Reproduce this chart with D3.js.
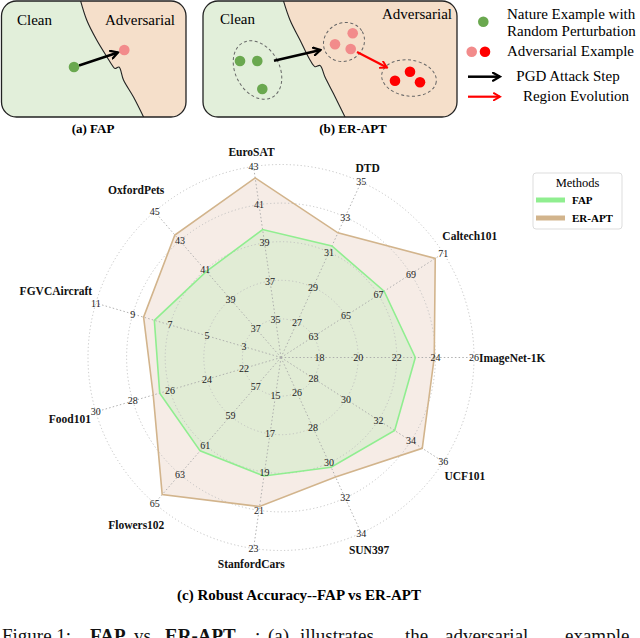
<!DOCTYPE html>
<html>
<head>
<meta charset="utf-8">
<script src="https://cdn.jsdelivr.net/npm/d3@7"></script>
<style>
  body { margin: 0; background: #fff; }
  svg { display: block; }
  text { font-family: "Liberation Serif", "Times New Roman", serif; }
</style>
</head>
<body>
<div id="chart"></div>
<script>
// Radar data, axes run counter-clockwise starting at 3 o'clock
const datasets = ["ImageNet-1K", "Caltech101", "DTD", "EuroSAT", "OxfordPets", "FGVCAircraft",
                  "Food101", "Flowers102", "StanfordCars", "SUN397", "UCF101"];
const axisMin = [16, 61, 25, 33, 35, 1, 20, 55, 13, 24, 26];
const axisMax = [26, 71, 35, 43, 45, 11, 30, 65, 23, 34, 36];
const ringTicks = [
  [18, 20, 22, 24, 26], [63, 65, 67, 69, 71], [27, 29, 31, 33, 35], [35, 37, 39, 41, 43],
  [37, 39, 41, 43, 45], [3, 5, 7, 9, 11], [22, 24, 26, 28, 30], [57, 59, 61, 63, 65],
  [15, 17, 19, 21, 23], [26, 28, 30, 32, 34], [28, 30, 32, 34, 36]
];
const fapValues   = [22.96, 67.35, 31.35, 39.7, 40.9, 7.84, 26.55, 61.4, 19.2, 30.25, 33.0];
const eraptValues = [23.94, 70.5, 32.1, 42.4, 43.4, 8.42, 26.9, 64.4, 20.8, 30.8, 34.7];
const methods = ["FAP", "ER-APT"];

const width = 640, height = 638;

const svg = d3.select("#chart").append("svg")
    .attr("width", width)
    .attr("height", height);

// Arrow markers for the illustrations
const defs = svg.append("defs");
[["arrowBlack", "#000"], ["arrowRed", "#f00"]].forEach(([id, c]) => {
  defs.append("marker")
      .attr("id", id)
      .attr("viewBox", "0 0 10 10")
      .attr("refX", 8).attr("refY", 5)
      .attr("markerWidth", 4).attr("markerHeight", 4)
      .attr("orient", "auto")
    .append("path")
      .attr("d", "M1,1 L8,5 L1,9")
      .attr("fill", "none")
      .attr("stroke", c)
      .attr("stroke-width", 2.2)
      .attr("stroke-linecap", "round");
});

const cleanFill = "#e2efda", advFill = "#f5dfca";
const boundary = d3.line().curve(d3.curveCatmullRom);

function panel(x, w, pts) {
  const g = svg.append("g");
  const clipId = "clip" + Math.round(x);
  defs.append("clipPath").attr("id", clipId)
    .append("rect").attr("x", x).attr("y", 1).attr("width", w).attr("height", 116).attr("rx", 15);
  const inner = g.append("g").attr("clip-path", `url(#${clipId})`);
  inner.append("rect").attr("x", x).attr("y", 1).attr("width", w).attr("height", 116).attr("fill", advFill);
  inner.append("path").attr("d", boundary(pts) + `L${x - 5},125L${x - 5},-5Z`).attr("fill", cleanFill);
  inner.append("path").attr("d", boundary(pts)).attr("fill", "none").attr("stroke", "#222").attr("stroke-width", 1.1);
  g.append("rect").attr("x", x).attr("y", 1).attr("width", w).attr("height", 116).attr("rx", 15)
      .attr("fill", "none").attr("stroke", "#222").attr("stroke-width", 1.3);
  return g;
}

// (a) FAP
const pa = panel(1.5, 184.5, [[79, -5], [86.7, 20], [96.7, 40], [107, 57], [112, 65], [115, 68.5], [119, 67],
                               [123.5, 80], [133.5, 97], [146, 122]]);
pa.append("text").attr("x", 17).attr("y", 25).attr("font-size", 15).text("Clean");
pa.append("text").attr("x", 105).attr("y", 25).attr("font-size", 15).text("Adversarial");
pa.append("line").attr("x1", 79).attr("y1", 65.5).attr("x2", 118).attr("y2", 52.5)
    .attr("stroke", "#000").attr("stroke-width", 2.5).attr("marker-end", "url(#arrowBlack)");
pa.append("circle").attr("cx", 74).attr("cy", 67).attr("r", 5.3).attr("fill", "#6aa84f");
pa.append("circle").attr("cx", 124.3).attr("cy", 50).attr("r", 5.3).attr("fill", "#f28b8b");
svg.append("text").attr("x", 93).attr("y", 133).attr("text-anchor", "middle")
    .attr("font-size", 13).attr("font-weight", "bold").text("(a) FAP");

// (b) ER-APT
const pb = panel(203, 254, [[281.7, -5], [290, 20], [300, 40], [310, 60], [315, 66.7], [320, 65.5],
                            [325, 77], [333.3, 93.3], [347.5, 122]]);
pb.append("text").attr("x", 220).attr("y", 24).attr("font-size", 15).text("Clean");
pb.append("text").attr("x", 382).attr("y", 19).attr("font-size", 15).text("Adversarial");
const dash = "3,2.5";
pb.append("ellipse").attr("cx", 0).attr("cy", 0).attr("rx", 22).attr("ry", 31)
    .attr("transform", "translate(257.5,70) rotate(-28)")
    .attr("fill", "none").attr("stroke", "#666").attr("stroke-dasharray", dash);
pb.append("ellipse").attr("cx", 0).attr("cy", 0).attr("rx", 21).attr("ry", 19)
    .attr("transform", "translate(344,42) rotate(-30)")
    .attr("fill", "none").attr("stroke", "#666").attr("stroke-dasharray", dash);
pb.append("ellipse").attr("cx", 0).attr("cy", 0).attr("rx", 27.5).attr("ry", 18)
    .attr("transform", "translate(409,78) rotate(8)")
    .attr("fill", "none").attr("stroke", "#666").attr("stroke-dasharray", dash);
[[240, 61], [257.3, 61], [262.3, 89]].forEach(([x, y]) =>
  pb.append("circle").attr("cx", x).attr("cy", y).attr("r", 5.3).attr("fill", "#6aa84f"));
[[335, 44.3], [352.7, 33.3], [350.7, 49]].forEach(([x, y]) =>
  pb.append("circle").attr("cx", x).attr("cy", y).attr("r", 5.3).attr("fill", "#f28b8b"));
[[395, 80.7], [410, 71.7], [420, 82.3]].forEach(([x, y]) =>
  pb.append("circle").attr("cx", x).attr("cy", y).attr("r", 5.3).attr("fill", "#f00"));
pb.append("line").attr("x1", 274).attr("y1", 60.7).attr("x2", 320.5).attr("y2", 50)
    .attr("stroke", "#000").attr("stroke-width", 2.5).attr("marker-end", "url(#arrowBlack)");
pb.append("line").attr("x1", 357).attr("y1", 52).attr("x2", 387).attr("y2", 67.5)
    .attr("stroke", "#f00").attr("stroke-width", 2.2).attr("marker-end", "url(#arrowRed)");
svg.append("text").attr("x", 353).attr("y", 133).attr("text-anchor", "middle")
    .attr("font-size", 13).attr("font-weight", "bold").text("(b) ER-APT");

// Illustration legend
const lg = svg.append("g").attr("font-size", 15);
lg.append("circle").attr("cx", 483.3).attr("cy", 21.7).attr("r", 5.3).attr("fill", "#6aa84f");
lg.append("text").attr("x", 507).attr("y", 19).text("Nature Example with");
lg.append("text").attr("x", 507).attr("y", 36).text("Random Perturbation");
lg.append("circle").attr("cx", 471.7).attr("cy", 51.7).attr("r", 5.3).attr("fill", "#f28b8b");
lg.append("circle").attr("cx", 485).attr("cy", 51.7).attr("r", 5.3).attr("fill", "#f00");
lg.append("text").attr("x", 507).attr("y", 56).text("Adversarial Example");
lg.append("line").attr("x1", 468).attr("y1", 76.7).attr("x2", 500).attr("y2", 76.7)
    .attr("stroke", "#000").attr("stroke-width", 2.5).attr("marker-end", "url(#arrowBlack)");
lg.append("text").attr("x", 568).attr("y", 81).attr("text-anchor", "middle").text("PGD Attack Step");
lg.append("line").attr("x1", 468).attr("y1", 96.7).attr("x2", 500).attr("y2", 96.7)
    .attr("stroke", "#f00").attr("stroke-width", 2.2).attr("marker-end", "url(#arrowRed)");
lg.append("text").attr("x", 576).attr("y", 101).attr("text-anchor", "middle").text("Region Evolution");

// ---- Radar chart ----
const cx = 281, cy = 357.5, R = 193;
const n = datasets.length;
const angle = i => i * 2 * Math.PI / n;   // counter-clockwise from east
const scales = datasets.map((d, i) => d3.scaleLinear().domain([axisMin[i], axisMax[i]]).range([0, R]));
const radar = svg.append("g").attr("transform", `translate(${cx},${cy})`);

const radial = d3.lineRadial()
    .angle(d => Math.PI / 2 - angle(d.i))
    .radius(d => scales[d.i](d.v))
    .curve(d3.curveLinearClosed);

const series = [
  { name: "ER-APT", values: eraptValues, stroke: "#d2b48c", fill: "#f6ece6", op: 1 },
  { name: "FAP", values: fapValues, stroke: "#90ee90", fill: "#90ee90", op: 0.2 }
];

radar.selectAll("path.area")
  .data(series)
  .join("path")
    .attr("class", "area")
    .attr("d", s => radial(s.values.map((v, i) => ({ v, i }))))
    .attr("fill", s => s.fill)
    .attr("fill-opacity", s => s.op)
    .attr("stroke", "none");

// grid
radar.selectAll("circle.ring")
  .data(d3.range(1, 6))
  .join("circle")
    .attr("class", "ring")
    .attr("r", k => R * k / 5)
    .attr("fill", "none")
    .attr("stroke", "#bdbdbd")
    .attr("stroke-width", 0.9)
    .attr("stroke-dasharray", "1.2,2.4");

radar.selectAll("line.spoke")
  .data(datasets)
  .join("line")
    .attr("class", "spoke")
    .attr("x1", 0).attr("y1", 0)
    .attr("x2", (d, i) => R * Math.cos(angle(i)))
    .attr("y2", (d, i) => -R * Math.sin(angle(i)))
    .attr("stroke", "#a8a8a8")
    .attr("stroke-width", 0.9)
    .attr("stroke-dasharray", "1.5,2.2");

radar.selectAll("path.outline")
  .data(series)
  .join("path")
    .attr("class", "outline")
    .attr("d", s => radial(s.values.map((v, i) => ({ v, i }))))
    .attr("fill", "none")
    .attr("stroke", s => s.stroke)
    .attr("stroke-width", 1.6)
    .attr("stroke-linejoin", "miter");

// ring tick labels on every axis
datasets.forEach((d, i) => {
  radar.append("g")
    .selectAll("text")
    .data(ringTicks[i])
    .join("text")
      .attr("x", t => scales[i](t) * Math.cos(angle(i)))
      .attr("y", t => -scales[i](t) * Math.sin(angle(i)))
      .attr("text-anchor", "middle")
      .attr("dominant-baseline", "central")
      .attr("font-size", 10)
      .attr("fill", "#222")
      .text(t => t);
});

// dataset labels, pushed out so the box clears the outer ring
radar.selectAll("text.axis-label")
  .data(datasets)
  .join("text")
    .attr("class", "axis-label")
    .attr("text-anchor", "middle")
    .attr("dominant-baseline", "central")
    .attr("font-size", 11.5)
    .attr("font-weight", "bold")
    .attr("fill", "#111")
    .text(d => d)
    .each(function(d, i) {
      const b = this.getBBox();
      const a = angle(i), c = Math.cos(a), s = Math.sin(a);
      const r = 198 + Math.abs(c) * b.width / 2 + Math.abs(s) * b.height / 2;
      d3.select(this).attr("x", r * c).attr("y", -r * s);
    });

// legend for methods
const leg = svg.append("g").attr("transform", "translate(533,173)");
leg.append("rect").attr("width", 89).attr("height", 56).attr("rx", 3)
    .attr("fill", "#fff").attr("stroke", "#ddd");
leg.append("text").attr("x", 44.5).attr("y", 14).attr("text-anchor", "middle")
    .attr("font-size", 12.5).text("Methods");
const legendColor = d3.scaleOrdinal().domain(methods).range(["#90ee90", "#d2b48c"]);
const item = leg.selectAll("g.item")
  .data(methods)
  .join("g")
    .attr("class", "item")
    .attr("transform", (d, i) => `translate(0,${27 + i * 18})`);
item.append("line").attr("x1", 3).attr("x2", 32).attr("y1", 0).attr("y2", 0)
    .attr("stroke", d => legendColor(d)).attr("stroke-width", 5);
item.append("text").attr("x", 39).attr("y", 0).attr("dominant-baseline", "central")
    .attr("font-size", 11).attr("font-weight", "bold").text(d => d);

svg.append("text").attr("x", 299).attr("y", 600).attr("text-anchor", "middle")
    .attr("font-size", 15).attr("font-weight", "bold")
    .text("(c) Robust Accuracy--FAP vs ER-APT");

// cut-off caption line at the bottom (the reference shows only its upper part)
const words = [["Figure 1:", 2, false], ["FAP", 90, true], ["vs", 134, false], ["ER-APT", 165, true],
               [":", 255, false], ["(a)", 268, false], ["illustrates", 300, false], ["the", 405, false],
               ["adversarial", 445, false], ["example", 565, false]];
const cap = svg.append("text").attr("y", 642).attr("font-size", 19).attr("fill", "#111");
words.forEach(([w, x, b]) => cap.append("tspan").attr("x", x).attr("font-weight", b ? "bold" : null).text(w));
</script>
</body>
</html>
